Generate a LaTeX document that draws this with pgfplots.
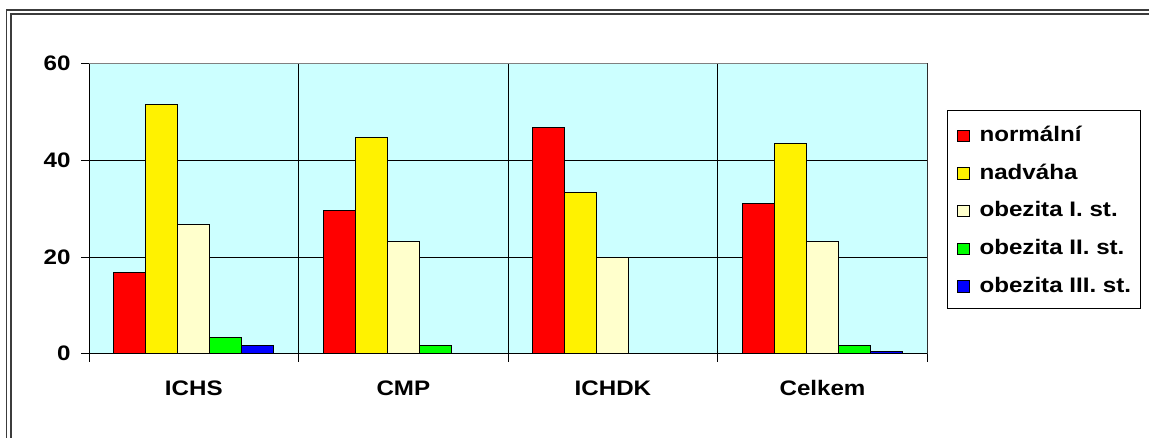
\documentclass[border=0pt]{standalone}
\usepackage{fontspec}
\setmainfont{Liberation Sans}[FakeStretch=1.15]
\usepackage{pgfplots}
\pgfplotsset{compat=1.18}

\definecolor{plotbg}{RGB}{204,255,255}
\definecolor{cream}{RGB}{255,255,204}
\definecolor{framegray}{RGB}{60,60,60}

\newcommand{\chartfont}{\fontsize{21bp}{24bp}\selectfont\bfseries}

\pgfplotsset{
  sq legend/.style={
    legend image code/.code={
      \draw[##1, line width=1bp] (0bp,0bp) rectangle (11.5bp,11.5bp);
    }
  },
}

\begin{document}
\begin{tikzpicture}
\useasboundingbox (0,0) rectangle (1149bp,438bp);
% double frame around the chart
\draw[framegray, line width=1.2bp] (6.6bp,0) -- (6.6bp,428bp) -- (1149bp,428bp);
\draw[framegray, line width=1.8bp] (10.8bp,0) -- (10.8bp,424.3bp) -- (1149bp,424.3bp);

\begin{axis}[
  at={(89bp,84.3bp)}, anchor=south west,
  scale only axis,
  width=838.3bp, height=290bp,
  ybar=0pt, bar width=0.1528,
  xmin=-0.5, xmax=3.5,
  ymin=0, ymax=60,
  xtick={0,1,2,3},
  xticklabels={ICHS, CMP, ICHDK, Celkem},
  minor xtick={-0.5,0.5,1.5,2.5,3.5},
  ytick={0,20,40,60},
  xminorgrids=true, ymajorgrids=true, xmajorgrids=false,
  grid style={black, line width=1bp},
  minor grid style={black, line width=1bp},
  tick align=outside,
  xtick pos=bottom, ytick pos=left,
  major tick length=8bp, minor tick length=8bp,
  major x tick style={draw=none},
  tick style={black, line width=1bp},
  minor tick style={black, line width=1bp},
  axis line style={black, line width=1bp},
  axis background/.style={fill=plotbg},
  /pgf/number format/assume math mode=true,
  tick label style={font=\chartfont},
  yticklabel style={inner sep=0pt, xshift=-10.3bp},
  xticklabel style={inner sep=0pt, anchor=north, text height=15.3bp, text depth=0bp, yshift=-18.3bp},
  legend style={
    at={(1.0235,0.8403)}, anchor=north west,
    draw=black, line width=1bp, fill=white,
    font=\chartfont,
    nodes={inner sep=0pt, text height=17bp, text depth=2bp, anchor=base west},
    row sep=18.7bp, column sep=10bp,
    inner xsep=9.5bp, inner ysep=14bp,
  },
  legend cell align=left,
]
\addplot[fill=red, draw=black, line width=1bp, sq legend]
  coordinates {(0,16.7) (1,29.7) (2,46.9) (3,31.0)};
\addlegendentry{normální}
\addplot[fill=yellow, draw=black, line width=1bp, sq legend]
  coordinates {(0,51.5) (1,44.8) (2,33.3) (3,43.4)};
\addlegendentry{nadváha}
\addplot[fill=cream, draw=black, line width=1bp, sq legend]
  coordinates {(0,26.8) (1,23.2) (2,20.0) (3,23.2)};
\addlegendentry{obezita I. st.}
\addplot[fill=green, draw=black, line width=1bp, sq legend]
  coordinates {(0,3.4) (1,1.6) (3,1.6)};
\addlegendentry{obezita II. st.}
\addplot[fill=blue, draw=black, line width=1bp, sq legend]
  coordinates {(0,1.6) (3,0.4)};
\addlegendentry{obezita III. st.}
% grey frame on the top and right of the plot area
\draw[gray, line width=1.3bp] (rel axis cs:0,1) -- (rel axis cs:1,1) -- (rel axis cs:1,0);
\end{axis}
\end{tikzpicture}
\end{document}
